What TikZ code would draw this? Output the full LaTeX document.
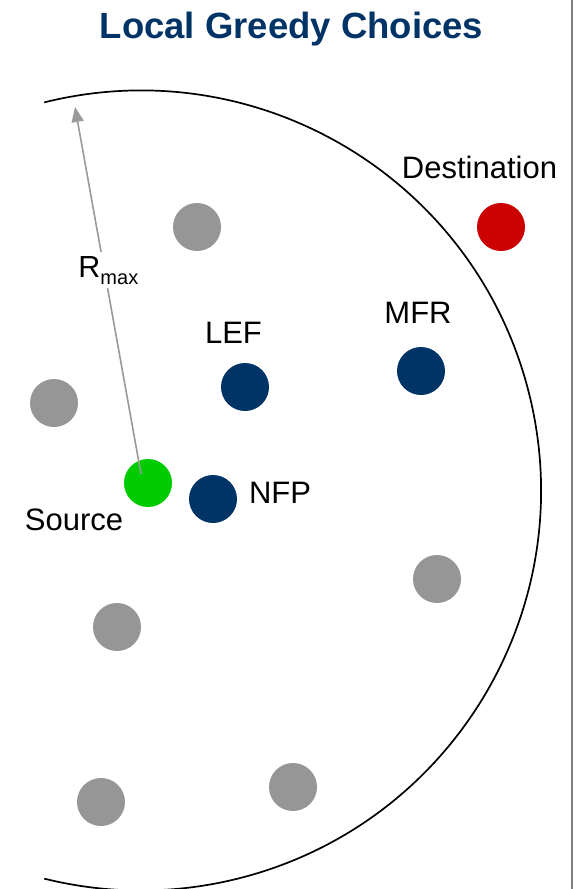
\documentclass[tikz,border=0pt]{standalone}
\usepackage{fontspec}
\setmainfont{Liberation Sans}
\usetikzlibrary{arrows.meta}

\definecolor{navy}{HTML}{003366}
\definecolor{srcgreen}{HTML}{00CC00}
\definecolor{dstred}{HTML}{CC0000}
\definecolor{nodegray}{HTML}{969696}
\definecolor{radgray}{HTML}{999999}
\definecolor{edgegray}{HTML}{7F7F7F}

\tikzset{
  dot/.style={circle, inner sep=0pt, minimum size=48pt, draw=none},
  plain/.style={dot, fill=nodegray},
  chosen/.style={dot, fill=navy},
  lbl/.style={font=\fontsize{31}{31}\selectfont, inner sep=0pt, text=black},
  rangecircle/.style={draw=black, line width=1.7pt},
  radiusarrow/.style={draw=radgray, line width=1.6pt,
    -{Triangle[length=15pt,width=12pt]}},
}

\begin{document}
\begin{tikzpicture}[x=1pt,y=1pt]
  \useasboundingbox (0,0) rectangle (574,-889);
  \fill[white] (0,0) rectangle (574,-889);

  % frame edge on the right
  \draw[edgegray, line width=2.5pt] (572,0) -- (572,-889);

  % title
  \node[anchor=base, text=navy, inner sep=0pt,
        font=\fontsize{36.5}{36.5}\selectfont\bfseries] (title) at (291.5,-38)
        {Local Greedy Choices};

  % transmission range of the source
  \coordinate (rc) at (141,-490.5);
  \draw[rangecircle] (rc) ++(104:400) arc[start angle=104, end angle=-104, radius=400];

  % neighbours out of reach of the greedy rules
  \node[plain] (g1) at (197,-227) {};
  \node[plain] (g2) at (54,-403) {};
  \node[plain] (g3) at (117,-627) {};
  \node[plain] (g4) at (437,-579) {};
  \node[plain] (g5) at (101,-802) {};
  \node[plain] (g6) at (293,-787) {};

  % source, destination and the three greedy choices
  \node[dot, fill=srcgreen] (src) at (148,-483) {};
  \node[dot, fill=dstred] (dst) at (501,-227) {};
  \node[chosen] (lef) at (245,-387) {};
  \node[chosen] (mfr) at (421,-371) {};
  \node[chosen] (nfp) at (213,-499) {};

  % labels
  \node[lbl] (srclbl) at (74,-520) {Source};
  \node[lbl] (dstlbl) at (479.5,-167) {Destination};
  \node[lbl] (leflbl) at (233.5,-333) {LEF};
  \node[lbl] (mfrlbl) at (418,-313) {MFR};
  \node[lbl] (nfplbl) at (280,-493) {NFP};

  % radius of the range
  \coordinate (rbase) at (141,-474);
  \coordinate (rtip) at (75,-107);
  \draw[radiusarrow] (rbase) -- node[pos=0.555, xshift=4pt, fill=white, inner sep=4pt, text=black,
      font=\fontsize{30.5}{30.5}\selectfont] (rmax)
      {R\raisebox{-7pt}{\fontsize{20}{20}\selectfont max}} (rtip);
\end{tikzpicture}
\end{document}
